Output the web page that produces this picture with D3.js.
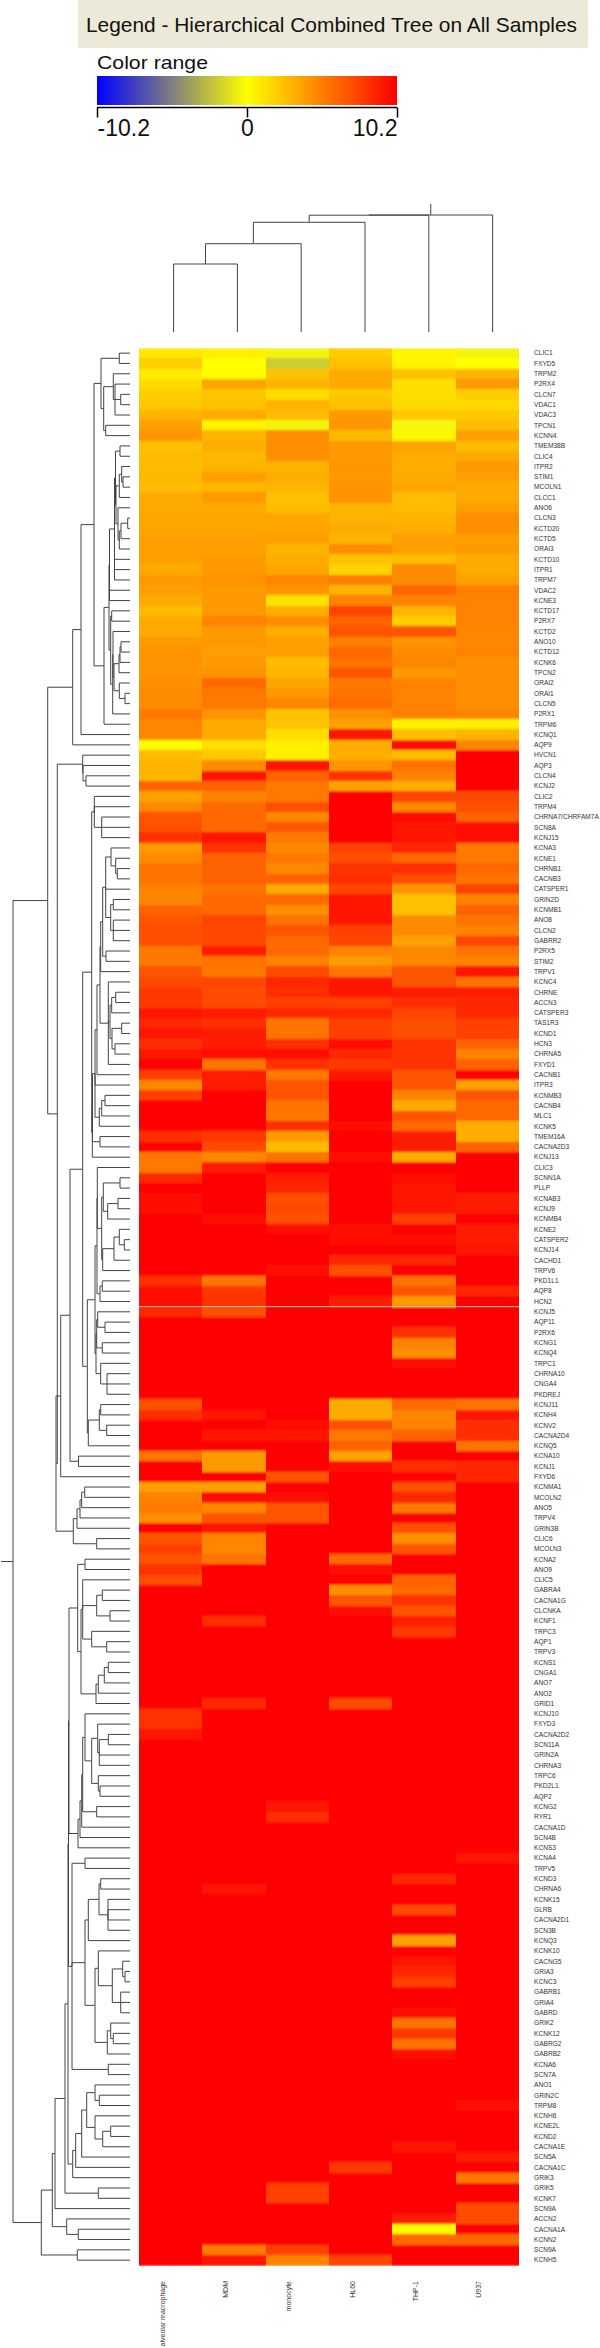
<!DOCTYPE html>
<html>
<head>
<meta charset="utf-8">
<script src="https://cdn.jsdelivr.net/npm/d3@7"></script>
<style>
  html, body { margin: 0; background: #fff; }
  svg { display: block; font-family: "Liberation Sans", Arial, sans-serif; }
</style>
</head>
<body>
<svg id="chart" width="600" height="2348"></svg>
<script>
const colLabels = ["alveolar macrophage", "MDM", "monocyte", "HL60", "THP-1", "U937"]

const rowLabels = [
  "CLIC1","FXYD5","TRPM2","P2RX4","CLCN7","VDAC1","VDAC3","TPCN1","KCNN4","TMEM38B",
  "CLIC4","ITPR2","STIM1","MCOLN1","CLCC1","ANO6","CLCN3","KCTD20","KCTD5","ORAI3",
  "KCTD10","ITPR1","TRPM7","VDAC2","KCNE3","KCTD17","P2RX7","KCTD2","ANO10","KCTD12",
  "KCNK6","TPCN2","ORAI2","ORAI1","CLCN5","P2RX1","TRPM6","KCNQ1","AQP9","HVCN1",
  "AQP3","CLCN4","KCNJ2","CLIC2","TRPM4","CHRNA7/CHRFAM7A","SCN8A","KCNJ15","KCNA3","KCNE1",
  "CHRNB1","CACNB3","CATSPER1","GRIN2D","KCNMB1","ANO8","CLCN2","GABRR2","P2RX5","STIM2",
  "TRPV1","KCNC4","CHRNE","ACCN3","CATSPER3","TAS1R3","KCND1","HCN3","CHRNA5","FXYD1",
  "CACNB1","ITPR3","KCNMB3","CACNB4","MLC1","KCNK5","TMEM16A","CACNA2D3","KCNJ13","CLIC3",
  "SCNN1A","PLLP","KCNAB3","KCNJ9","KCNMB4","KCNE2","CATSPER2","KCNJ14","CACHD1","TRPV6",
  "PKD1L1","AQP8","HCN2","KCNJ5","AQP11","P2RX6","KCNG1","KCNQ4","TRPC1","CHRNA10",
  "CNGA4","PKDREJ","KCNJ11","KCNH4","KCNV2","CACNA2D4","KCNQ5","KCNA10","KCNJ1","FXYD6",
  "KCNMA1","MCOLN2","ANO5","TRPV4","GRIN3B","CLIC6","MCOLN3","KCNA2","ANO9","CLIC5",
  "GABRA4","CACNA1G","CLCNKA","KCNF1","TRPC3","AQP1","TRPV3","KCNS1","CNGA1","ANO7",
  "ANO2","GRID1","KCNJ10","FXYD3","CACNA2D2","SCN11A","GRIN2A","CHRNA3","TRPC6","PKD2L1",
  "AQP2","KCNG2","RYR1","CACNA1D","SCN4B","KCNS3","KCNA4","TRPV5","KCND3","CHRNA6",
  "KCNK15","GLRB","CACNA2D1","SCN3B","KCNQ3","KCNK10","CACNG5","GRIA3","KCNC3","GABRB1",
  "GRIA4","GABRD","GRIK2","KCNK12","GABRG2","GABRB2","KCNA6","SCN7A","ANO1","GRIN2C",
  "TRPM8","KCNH6","KCNE2L","KCND2","CACNA1E","SCN5A","CACNA1C","GRIK3","GRIK5","KCNK7",
  "SCN9A","ACCN2","CACNA1A","KCNN2","SCN9A","KCNH5"
]

const R = 10.2
const heat = [
  [0.9,0.6,-0.5,2,0.4,-0.5],[1.9,0,-2,2.5,0.5,0],[0.8,0.1,2.4,3.4,2.5,3],[1.4,3.6,3,3.4,1.3,4.1],
  [2,2.3,1.4,2.2,1.4,2],[2.2,2.5,3.1,2.5,1.4,1.5],[3,3.4,2.7,4.1,2.2,2.2],[3.8,0.5,-0.5,4.2,-0.3,2.6],
  [4.2,3,4.5,2.8,0.4,3.8],[2.5,3.3,4.5,4.1,3.7,2.7],[2.7,2.9,4.5,4.1,3.4,3.4],[2.7,3,3.1,4.2,3.3,4.1],
  [2.9,3.8,3.3,4.1,3.4,3.8],[2.7,2.9,3,4.3,3.6,3.4],[3.4,4.1,2.5,4.3,2.7,3.4],[3.4,3.4,2.7,3,2.7,3.9],
  [3.6,3.6,3.6,3.1,3,4.5],[3.6,3.6,3.6,3.4,3.3,4.5],[3.8,3.8,3.8,3,3.9,3.8],[3.8,3.8,3,4.6,3.8,4.1],
  [3.8,4.1,3.3,2.5,2.7,3.4],[3.4,4.1,3.6,1.8,4.6,3.4],[4.1,4.3,4.8,5.1,4.6,3.8],[3.8,4.1,4.3,3,6.1,5.1],
  [3.4,4.1,1.2,5,5,5],[2.7,4.1,3.2,7.5,3,5],[3.4,5,4.6,6.3,2,5],[3.4,4.1,3.3,6.8,6.8,4.8],
  [4.1,4.1,3.8,5.1,4.3,4.8],[4.3,3.9,3.9,6.1,4.6,5],[4.3,4.1,2.7,5.6,4.8,4.5],[4.3,4.3,3,6.8,4.1,4.5],
  [4.5,6,3.6,5.4,5,4.5],[4.6,5.4,4.1,5.6,5,4.5],[4.6,5.4,4.8,5.9,5,4.5],[5.4,4.3,2.4,4.5,5.1,4.8],
  [4.8,3.4,2.4,3.8,0.6,0.6],[4.8,3.4,1.3,9.5,2.6,3],[0.1,1.3,0.6,3.3,9.8,4.8],[2.7,2.2,0.6,3.3,2.7,10],
  [3,4.6,9.3,4.3,5.6,10],[3,9.5,6.3,8.2,5,10],[6.3,6.3,5.4,3.8,3.3,10],[3.8,5,5.4,R,7.5,7.3],
  [4.8,6,7,R,4.8,7],[6.8,6,4.8,R,9.9,6.3],[7,6,6.8,R,9.4,9.6],[8.2,9.2,5.4,R,9.4,9.6],
  [4.1,8.2,4.8,7.6,8.6,5.4],[4.6,6.3,5.4,7,6.1,5.4],[5.6,6.3,4.8,8.2,8.3,6.1],[5.6,6.3,6.3,8.3,7,5.6],
  [5,5.6,3.4,7.5,4.3,7.5],[4.8,6,6,9.2,2.5,5],[6.3,6,4.5,9.2,2.5,6.3],[6.8,7.5,5.6,9.2,4.6,5.6],
  [7,7.3,6.8,7.6,4.6,5],[7,7.3,6,7.5,3.8,7.5],[5.4,9,6,5,4.8,5.6],[5.4,5.6,5,4.1,4.8,5],
  [6.8,5.4,7.2,5.4,6.8,9.2],[7.2,7.5,8.6,9.4,6.8,5.6],[8,7.2,8.3,9.4,9,9],[8,7.2,7.6,7.6,8.3,8.6],
  [9.2,9,8.6,8.6,7.5,8.6],[8.6,8.3,5.6,7.6,7,7.6],[9.4,9,5.6,7.6,7,7.6],[8.3,9,8.3,9.6,8.2,6.3],
  [9.4,9.9,9.9,8.6,8.2,5],[10,5.6,8.2,8,8.2,6.3],[7.6,9,5.4,9.2,6.8,10],[4.8,9,6.8,R,6.8,3.8],
  [7.6,R,6.8,R,5,6.8],[R,R,5.6,R,3.4,6],[R,R,5.4,R,6.8,6],[R,R,8.3,9.9,6,3.3],
  [8.3,8,4.1,R,9,3.3],[10,7.2,2.7,R,9,6.3],[5.4,4.8,5.6,9.6,3.4,R],[5.4,9,10,R,R,R],
  [8.6,R,9,R,9.9,R],[10,R,8.6,R,9.2,10],[9.6,R,7,R,9.2,9],[9.6,R,7.3,R,9.2,9],
  [R,9.9,7,R,7.6,10],[R,R,9.9,9.9,10,9],[R,R,R,9.9,9.9,9],[R,R,R,R,10,9.2],
  [R,R,10,8.6,8.6,10],[R,R,9.6,7,10,10],[8.2,5.6,R,10,5.6,R],[9.9,8,R,R,6.8,8.6],
  [9.9,8.2,R,9,4.1,10],[8.6,7,R,R,R,R],[10,R,R,R,R,R],[R,R,R,R,8.2,R],
  [R,R,R,R,5,R],[R,R,R,R,4.5,R],[R,R,R,R,9.9,R],[R,R,R,R,R,R],
  [R,R,R,R,R,R],[R,R,R,R,R,R],[7,R,R,3.4,6,5.6],[8.3,9.4,R,3.4,4.8,9.4],
  [R,10,9.9,7,5,8.3],[R,9.4,9.4,5.4,6.3,8.3],[R,10,10,6.3,R,5.6],[5.6,4.1,R,3.8,R,R],
  [R,4.1,R,9.6,8.3,8.6],[R,R,6.8,R,10,8.6],[3.8,3.8,R,R,7,R],[5,9.6,9.6,R,8.6,R],
  [5.4,4.8,6.8,R,5.4,R],[4.5,6.8,6.8,R,R,R],[R,9.4,R,R,7,R],[6.8,5,R,R,4.5,R],
  [7.6,4.8,R,R,6.8,R],[6.8,5.6,R,6,R,R],[8.2,R,R,9.9,R,R],[7,R,R,R,6.3,R],
  [R,R,R,4.5,6,R],[R,R,R,6.8,8.2,R],[R,10,R,9.9,6.8,R],[R,8.3,R,R,9,R],
  [R,R,R,R,8,R],[R,R,R,R,R,R],[R,R,R,R,R,R],[R,R,R,R,R,R],
  [R,R,R,R,R,R],[R,R,R,R,R,R],[R,R,R,R,R,R],[R,8.6,R,7.2,R,R],
  [8.2,R,R,R,R,R],[8.2,R,R,R,R,R],[9.2,R,R,R,R,R],[R,R,R,R,R,R],
  [R,R,R,R,R,R],[R,R,R,R,R,R],[R,R,R,R,R,R],[R,R,R,R,R,R],
  [R,R,R,R,R,R],[R,R,9.4,R,R,R],[R,R,8.3,R,R,R],[R,R,R,R,R,R],
  [R,R,R,R,R,R],[R,R,R,R,R,R],[R,R,R,R,R,9.4],[R,R,R,R,R,R],
  [R,R,R,R,8.6,R],[R,9.4,R,R,R,R],[R,R,R,R,R,R],[R,R,R,R,7.2,R],
  [R,R,R,R,R,R],[R,R,R,R,R,R],[R,R,R,R,3.8,R],[R,R,R,R,R,R],
  [R,R,R,R,9.4,R],[R,R,R,R,8.6,R],[R,R,R,R,7.6,R],[R,R,R,R,R,R],
  [R,R,R,R,R,R],[R,R,R,R,9.9,R],[R,R,R,R,5.6,R],[R,R,R,R,8,R],
  [R,R,R,R,5.6,R],[R,R,R,R,9.9,R],[R,R,R,R,R,R],[R,R,R,R,R,R],
  [R,R,R,R,R,R],[R,R,R,R,R,R],[R,R,R,R,R,9.6],[R,R,R,R,R,R],
  [R,R,R,R,R,R],[R,R,R,R,R,R],[R,R,R,R,9.2,R],[R,R,R,R,R,9],
  [R,R,R,8,R,R],[R,R,R,R,R,5.4],[R,R,7.6,R,R,R],[R,R,7.6,R,R,R],
  [R,R,R,R,R,7.2],[R,R,R,R,9,7.2],[R,R,R,R,0.3,R],[R,R,R,R,6,6],
  [R,5.4,7.6,R,R,R],[R,9.2,5,7.5,R,R]
]

// merge trees: [height, child, child, ...], a 0 child is a leaf
const rowTree = [117,
  [82.3,
    [57.3,
      [49,
        [36,
          [29, [10.7,0,0], [26.3, [16.7,0,[15,0,[9.3,0,0],0]], [24.3,0,0]]],
          [26,
            [21,
              [20.5,
                [15.5,
                  [14.5, [10,0,0], [14, [10.7,[8.3,0,[7,0,0]],0], [12,0,[10.7,[9,[2.3,0,0],0],0]]]],
                  0,0,0],
                0,0],
              [19.3, [18.3,0,0], [17.3,[17,0,[16,[11,[10,[9,0,0],0],0],[10.7,0,[5,0,0]]]],0]]],
            0]],
        0],
      0],
    [72.7,
      [47.3,0,[47,0,[44,0,0]]],
      [74,
        [69.3,
          [60,
            [47.3,
              [38.3,
                [35.7,0,0,[28.3,0,0,0]],
                [37.7,
                  [37.5,
                    [35,
                      [33,
                        [30,
                          [29.3,
                            [27.3,
                              [24.3,
                                [19,0,[14.3,0,[12.7,0,0]]],
                                0,
                                [19.3,[16.7,0,0],[16.7,0,0,0]]],
                              [24,0,0]],
                            0],
                          [21.7,0,[20,[18.3,[14.3,0,0],0],[18,[8.3,0,0],[15,0,0]]],0]],
                        0],
                      0,
                      [30.7,[28.3,[25,0,0],0],0]],
                    [30,0,0]],
                  0]],
              [42.7,
                [35,
                  [33,
                    [32.7,0,[28.3,
                      [26.7,[10,0,0],[22.3,[12,0,0],0]],
                      [27.3,[16,[10.7,0,[5.7,0,0]],0],0]]],
                    [30,[27.7,0,0],0]],
                  [34,
                    [33.3,[32.3,0,[25,0,0]],[27.7,0,0]],
                    [29.3,0,[23,0,0,0]]]],
                [41.7,[30.7,[29.3,0,0],[23.3,0,0]],0]]],
            [51.5,0,0]],
          0],
        [56.7,[53,[50,[48.3,[45.3,0,0],0],0],0],[33.3,0,0]]]]],
  [88.7,
    [77.7,
      [75,
        [65,
          [62,
            [61.5,
              [61,
                [52.3,
                  [45,0,0],
                  [49,
                    [47.3,0,[33.3,[27.7,0,0],[20,0,0]],[38.3,0,[23.3,0,0]]],
                    [34,[31.7,[25.7,[21.7,0,0],0],0],0]]],
                [52,
                  [50,
                    [48.3,
                      [47.3,[45,0,[38.3,[32.3,0,[30.7,[21.7,0,0],0,0]],[31.7,0,[30,0,0]]]],[33.3,0,0]],
                      0],
                    0],
                  0]],
              [58,
                [45,0,0],
                [45,
                  [41.7,[31,[29.3,0,0],[22,0,0,0,0]],0],
                  [35,
                    [31.7,0,[17.7,[7.3,0,[5,0,0]],[9.3,0,0,0]]],
                    [22.7,[19.3,0,[16.7,0,0]],0]]],
                [21.7,0,0]]],
            [57.3,
              [54.3,
                [48.3,
                  [43.3,[35,0,[30.7,0,0]],[35,0,[27.3,[19.3,0,0],0]]],
                  0],
                0],
              0]],
          [31.7,0,0]],
        0],
      [63.3,0,[51.7,0,0]]],
    [52.7,0,0]]]
const rowRootStem = 129

const colTree = [117, [116.8, [109.7, [88.3, [68,0,0], 0], 0], 0], 0]
const colRootStem = 128

const legendTicks = [-10.2, 0, 10.2]
const breakRow = 93

const svg = d3.select("#chart")

// soft edges like the scanned original
svg.append("defs").append("filter")
  .attr("id", "soft")
  .attr("x", 0).attr("y", 0).attr("width", 1).attr("height", 1)
  .append("feGaussianBlur")
  .attr("stdDeviation", "0.5 0.9")

// heatmap
const x = d3.scaleBand().domain(colLabels).range([139, 519])
const y = d3.scaleBand().domain(d3.range(rowLabels.length)).range([348, 2265.3])
const color = d3.scaleLinear()
  .domain(legendTicks)
  .range(["#0000ff", "#ffff00", "#ff0000"])

const cells = svg.append("g")
  .attr("shape-rendering", "crispEdges")
  .attr("filter", "url(#soft)")
heat.forEach((row, r) => {
  cells.selectAll(null)
    .data(row)
    .enter().append("rect")
    .attr("x", (d, i) => x(colLabels[i]))
    .attr("y", y(r))
    .attr("width", x.bandwidth())
    .attr("height", y.bandwidth() + 0.5)
    .attr("fill", d => color(d))
})
svg.append("line")
  .attr("x1", x.range()[0]).attr("x2", x.range()[1])
  .attr("y1", y(breakRow)).attr("y2", y(breakRow))
  .attr("stroke", "#f6c8b4")

// row labels, column labels
svg.append("g").selectAll("text")
  .data(rowLabels)
  .enter().append("text")
  .attr("x", 534)
  .attr("y", (d, i) => y(i) + y.bandwidth() / 2)
  .attr("dy", "0.35em")
  .attr("font-size", 6.6)
  .attr("fill", "#333")
  .text(d => d)

svg.append("g").selectAll("text")
  .data(colLabels)
  .enter().append("text")
  .attr("transform", d => `translate(${x(d) + x.bandwidth() / 2 - 6},2281) rotate(-90)`)
  .attr("text-anchor", "end")
  .attr("font-size", 7)
  .attr("fill", "#333")
  .text(d => d)

// dendrograms
const hierarchy = tree => d3.hierarchy(tree, d => Array.isArray(d) ? d.slice(1) : null)
const heightOf = n => n.children ? n.data[0] : 0

const drawTree = (tree, leafPos, dist, stem, horizontal) => {
  const root = hierarchy(tree)
  root.leaves().forEach((n, i) => { n.pos = leafPos(i) })
  root.eachAfter(n => {
    if (n.children) n.pos = (d3.min(n.children, c => c.pos) + d3.max(n.children, c => c.pos)) / 2
  })
  const pt = (pos, h) => horizontal ? [dist(h), pos] : [pos, dist(h)]
  const path = d3.path()
  const segment = (a, b) => { path.moveTo(...a); path.lineTo(...b) }
  root.links().forEach(({ source, target }) => {
    const h = heightOf(source)
    segment(pt(source.pos, h), pt(target.pos, h))
    segment(pt(target.pos, h), pt(target.pos, heightOf(target)))
  })
  segment(pt(root.pos, heightOf(root)), pt(root.pos, stem))
  svg.append("path")
    .attr("d", path.toString())
    .attr("fill", "none")
    .attr("stroke", "#444")
    .attr("stroke-width", 1)
}

const rowDist = d3.scaleLinear().domain([0, 117]).range([130, 13])
drawTree(rowTree, i => y(i) + y.bandwidth() / 2, rowDist, rowRootStem, true)

const colLeaf = d3.scalePoint().domain(colLabels).range([173.6, 492.6])
const colDist = d3.scaleLinear().domain([0, 128]).range([332, 204])
drawTree(colTree, i => colLeaf(colLabels[i]), colDist, colRootStem, false)

// legend
svg.append("rect")
  .attr("x", 78).attr("y", 0).attr("width", 510).attr("height", 48)
  .attr("fill", "#ece9d8")
svg.append("text")
  .attr("x", 86).attr("y", 32)
  .attr("font-size", 21)
  .attr("textLength", 491)
  .attr("lengthAdjust", "spacingAndGlyphs")
  .attr("fill", "#111")
  .text("Legend - Hierarchical Combined Tree on All Samples")
svg.append("text")
  .attr("x", 97).attr("y", 69)
  .attr("font-size", 19)
  .attr("textLength", 111)
  .attr("lengthAdjust", "spacingAndGlyphs")
  .attr("fill", "#111")
  .text("Color range")

const legendX = d3.scaleLinear().domain([legendTicks[0], legendTicks[2]]).range([97, 397])
const grad = svg.append("defs").append("linearGradient").attr("id", "legend-grad")
grad.selectAll("stop")
  .data(legendTicks)
  .enter().append("stop")
  .attr("offset", d => (legendX(d) - 97) / 300)
  .attr("stop-color", d => color(d))
svg.append("rect")
  .attr("x", 97).attr("y", 76).attr("width", 300).attr("height", 29)
  .attr("fill", "url(#legend-grad)")

const legendAxis = svg.append("g")
  .attr("transform", "translate(0,107.5)")
  .call(d3.axisBottom(legendX).tickValues(legendTicks).tickSize(10).tickFormat(d => String(d)))
legendAxis.select(".domain").attr("stroke-width", 1.5).attr("d", "M97,0H397")
legendAxis.selectAll("line").attr("stroke-width", 1.5)
legendAxis.selectAll("text")
  .attr("font-family", "Liberation Sans")
  .attr("font-size", 23)
  .attr("fill", "#111")
  .attr("y", 10)
  .attr("dy", "0.8em")
  .attr("text-anchor", (d, i) => ["start", "middle", "end"][i])
</script>
</body>
</html>
